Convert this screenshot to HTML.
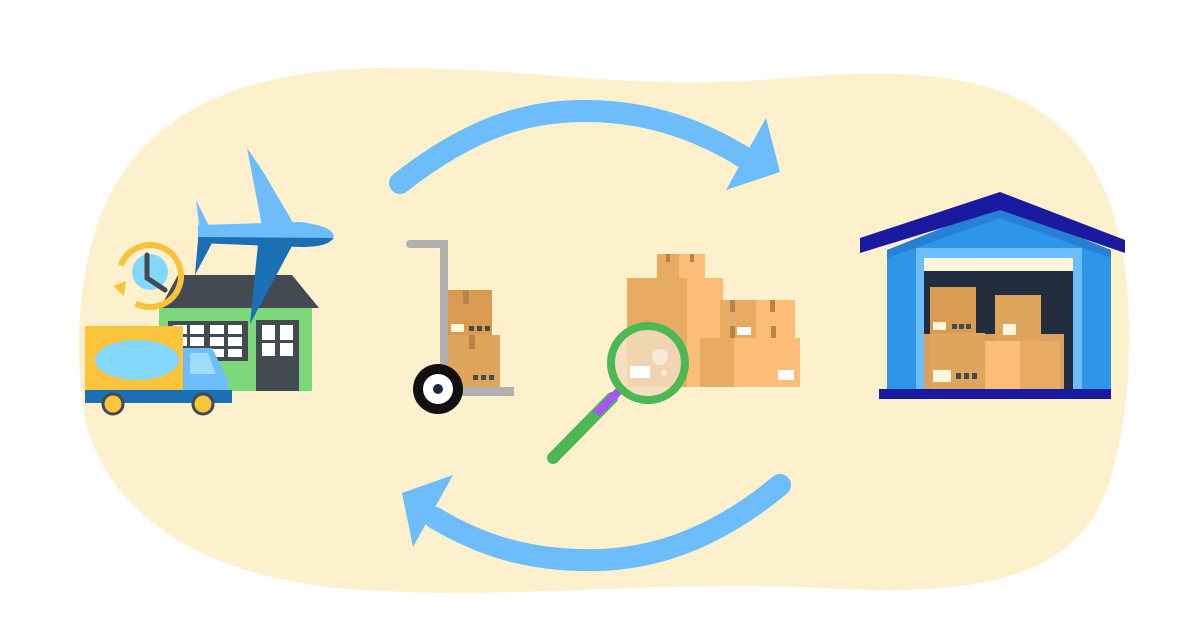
<!DOCTYPE html>
<html><head><meta charset="utf-8"><style>html,body{margin:0;padding:0;background:#fff}svg{display:block}</style></head>
<body>
<svg width="1200" height="628" viewBox="0 0 1200 628" xmlns="http://www.w3.org/2000/svg">
<!-- blob -->
<path d="M90,250 C120,120 230,70 380,68 C520,66 620,90 760,80 C900,68 1040,60 1100,180 C1140,260 1135,400 1110,480 C1080,575 990,598 820,588 C650,580 520,600 360,590 C210,580 110,520 85,420 C75,360 78,300 90,250 Z" fill="#fdf0cc"/>
<!-- top arrow -->
<path d="M400,183 C480,120 540,110 590,111 C650,112 700,130 745,158" fill="none" stroke="#6dbdfb" stroke-width="22" stroke-linecap="round"/>
<polygon points="766,118 780,172 726,190" fill="#6dbdfb"/>
<!-- bottom arrow -->
<path d="M780,485 C720,535 660,558 600,560 C530,562 480,545 435,518" fill="none" stroke="#6dbdfb" stroke-width="22" stroke-linecap="round"/>
<polygon points="402,493 453,475 413,547" fill="#6dbdfb"/>
<!-- house -->
<rect x="159" y="307" width="153" height="84" fill="#7dd87c"/>
<polygon points="160,308 178,275 292,275 319,308" fill="#434a52"/>
<rect x="168" y="321" width="80" height="40" fill="#434a52"/>
<g fill="#fff">
<rect x="173" y="325" width="14" height="9"/><rect x="190" y="325" width="14" height="9"/><rect x="210" y="325" width="14" height="9"/><rect x="228" y="325" width="14" height="9"/>
<rect x="173" y="337" width="14" height="9"/><rect x="190" y="337" width="14" height="9"/><rect x="210" y="337" width="14" height="9"/><rect x="228" y="337" width="14" height="9"/>
<rect x="190" y="349" width="14" height="8"/><rect x="210" y="349" width="14" height="8"/><rect x="228" y="349" width="14" height="8"/>
</g>
<rect x="256" y="320" width="43" height="71" fill="#434a52"/>
<g fill="#fff"><rect x="262" y="325" width="13" height="15"/><rect x="280" y="325" width="13" height="15"/><rect x="262" y="343" width="13" height="13"/><rect x="280" y="343" width="13" height="13"/></g>
<!-- clock -->
<circle cx="150" cy="276" r="31" fill="none" stroke="#f9c23c" stroke-width="6" stroke-dasharray="150 45" transform="rotate(200 150 276)"/>
<polygon points="113,286 126,281 124,296" fill="#f9c23c"/>
<circle cx="150" cy="272" r="18" fill="#84d8fb"/>
<polyline points="147,255 147,278 165,290" fill="none" stroke="#434a52" stroke-width="5" stroke-linecap="round"/>
<!-- plane -->
<polygon points="247,148 262,170 295,226 262,226" fill="#6dbdfb"/>
<polygon points="196,200 210,228 200,232" fill="#6dbdfb"/>
<path d="M198,225 L300,222 C330,226 336,232 333,240 L300,245 L198,243 Z" fill="#6dbdfb"/>
<path d="M198,237 L333,238 C330,244 320,247 300,247 L198,243 Z" fill="#1a6fb5"/>
<polygon points="258,244 292,246 250,324" fill="#1a6fb5"/>
<polygon points="198,240 212,243 195,275" fill="#1a6fb5"/>
<!-- truck -->
<rect x="85" y="326" width="98" height="64" fill="#fbc53b"/>
<ellipse cx="137" cy="360" rx="42" ry="20" fill="#84d8fb"/>
<path d="M183,348 L212,348 L228,380 L228,390 L183,390 Z" fill="#6dbdfb"/>
<polygon points="190,353 208,353 216,374 190,374" fill="#9edcfc"/>
<rect x="85" y="390" width="147" height="13" fill="#1a6fb5"/>
<circle cx="113" cy="404" r="10" fill="#fbc53b" stroke="#434a52" stroke-width="3"/>
<circle cx="203" cy="404" r="10" fill="#fbc53b" stroke="#434a52" stroke-width="3"/>
<!-- dolly -->
<rect x="440" y="240" width="8" height="150" fill="#b0b0b0"/>
<rect x="406" y="240" width="42" height="8" rx="4" fill="#b0b0b0"/>
<rect x="440" y="387" width="74" height="9" fill="#b0b0b0"/>
<rect x="448" y="290" width="44" height="45" fill="#d99a52"/>
<rect x="463" y="290" width="6" height="14" fill="#b88548"/>
<rect x="448" y="335" width="52" height="52" fill="#e0a55d"/>
<rect x="469" y="335" width="6" height="14" fill="#b88548"/>
<rect x="451" y="324" width="13" height="8" fill="#fff7dc"/>
<g fill="#434a52"><rect x="469" y="326" width="5" height="5"/><rect x="477" y="326" width="5" height="5"/><rect x="485" y="326" width="5" height="5"/><rect x="473" y="375" width="5" height="5"/><rect x="481" y="375" width="5" height="5"/><rect x="489" y="375" width="5" height="5"/></g>
<circle cx="438" cy="389" r="25" fill="#111"/><circle cx="438" cy="389" r="15" fill="#fff"/><circle cx="438" cy="389" r="5" fill="#1e2a3a"/>
<!-- box pile -->
<rect x="657" y="254" width="48" height="24" fill="#fcbd78"/><rect x="657" y="254" width="22" height="24" fill="#e8ab62"/>
<rect x="627" y="278" width="96" height="109" fill="#fcbd78"/><rect x="627" y="278" width="60" height="109" fill="#e8ab62"/>
<rect x="720" y="300" width="75" height="38" fill="#fcbd78"/><rect x="720" y="300" width="36" height="38" fill="#e8ab62"/>
<rect x="700" y="338" width="100" height="49" fill="#fcbd78"/><rect x="700" y="338" width="34" height="49" fill="#e8ab62"/>
<g fill="#b88548"><rect x="666" y="254" width="4" height="8"/><rect x="690" y="254" width="4" height="8"/><rect x="730" y="300" width="5" height="12"/><rect x="770" y="300" width="5" height="12"/><rect x="730" y="326" width="5" height="12"/><rect x="771" y="326" width="5" height="12"/></g>
<rect x="778" y="370" width="16" height="10" fill="#fff"/>
<rect x="737" y="327" width="14" height="8" fill="#fff"/>
<!-- magnifier -->
<line x1="612" y1="398" x2="553" y2="458" stroke="#4cb853" stroke-width="12" stroke-linecap="round"/>
<line x1="620" y1="390" x2="596" y2="414" stroke="#a855f7" stroke-width="8"/>
<circle cx="648" cy="363" r="33" fill="#f2dcc0" opacity="0.85"/>
<circle cx="660" cy="357" r="8" fill="#f5ead8"/>
<circle cx="664" cy="373" r="3" fill="#f5ead8"/>
<rect x="630" y="366" width="20" height="12" fill="#fff"/>
<circle cx="648" cy="363" r="37" fill="none" stroke="#4cb853" stroke-width="8"/>
<!-- warehouse -->
<polygon points="887,250 1000,205 1111,250 1111,389 887,389" fill="#2d96e8"/>
<polygon points="887,250 1000,205 1111,250 1111,258 1000,218 887,258" fill="#2680d4"/>
<polygon points="860,238 1000,192 1125,240 1125,253 1000,210 860,253" fill="#1a1aa0"/>
<rect x="916" y="248" width="166" height="141" fill="#6dbdfb"/>
<rect x="924" y="258" width="149" height="13" fill="#fff7dc"/>
<rect x="924" y="271" width="149" height="118" fill="#222d3d"/>
<rect x="924" y="334" width="140" height="55" fill="#d9a160"/>
<rect x="930" y="287" width="46" height="48" fill="#d99a52"/>
<rect x="995" y="295" width="46" height="46" fill="#e0a55d"/>
<rect x="930" y="333" width="55" height="56" fill="#e0a55d"/>
<rect x="985" y="341" width="35" height="48" fill="#fcbd78"/>
<rect x="1020" y="341" width="40" height="48" fill="#e8ab62"/>
<rect x="933" y="322" width="13" height="8" fill="#fff7dc"/><rect x="1003" y="324" width="13" height="11" fill="#fff7dc"/><rect x="933" y="370" width="18" height="12" fill="#fff7dc"/>
<g fill="#434a52"><rect x="952" y="324" width="5" height="5"/><rect x="959" y="324" width="5" height="5"/><rect x="966" y="324" width="5" height="5"/><rect x="956" y="373" width="5" height="6"/><rect x="964" y="373" width="5" height="6"/><rect x="972" y="373" width="5" height="6"/></g>
<rect x="879" y="389" width="232" height="10" fill="#1a1aa0"/>
</svg>
</body></html>
